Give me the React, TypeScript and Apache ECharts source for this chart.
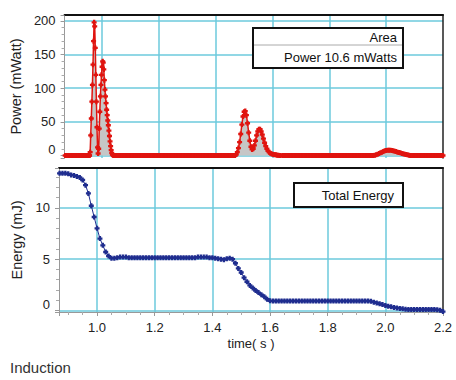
import React, { useEffect, useRef } from "react";
import * as echarts from "echarts";

const FONT = "'Liberation Sans', Arial, Helvetica, sans-serif";

// ---- Power (mWatt): sampled segments (start time s, step s, values) ----
const powerLeadZeros = [0, 0, 0, 0, 0, 0, 0, 0, 0, 0, 0, 0, 0, 0, 0, 0, 0, 0];
const powerPeaks12 = [
  0, 5, 30, 55, 80, 105, 135, 170, 198, 192,
  160, 120, 80, 42, 12, 3, 10, 40, 65, 88,
  105, 120, 132, 140, 138, 128, 112, 98, 88, 78,
  68, 60, 52, 45, 37, 29, 21, 14, 8, 4,
  1.5, 0.5, 0,
];
const powerMidZeros = [
  0, 0, 0, 0, 0, 0, 0, 0, 0, 0,
  0, 0, 0, 0, 0, 0, 0, 0, 0, 0,
  0, 0, 0, 0, 0, 0, 0, 0, 0, 0,
  0, 0, 0, 0, 0, 0, 0, 0, 0, 0,
  0, 0, 0, 0, 0, 0, 0, 0, 0, 0,
  0, 0, 0, 0, 0, 0, 0, 0, 0, 0,
  0, 0, 0, 0, 0, 0, 0, 0, 0, 0,
  0, 0, 0, 0, 0, 0, 0, 0, 0, 0,
  0, 0, 0, 0, 0,
];
const powerPeaks34 = [
  0, 1.5, 5, 11, 20, 32, 46, 58, 65, 66,
  60, 48, 34, 22, 13, 9, 10, 15, 22, 30,
  36, 39, 39, 36, 31, 25, 19, 14, 10, 7,
  5, 3.5, 2.5, 2, 1.5, 1, 1, 0.5, 0.5, 0,
  0,
];
const powerLateZeros = [
  0, 0, 0, 0, 0, 0, 0, 0, 0, 0,
  0, 0, 0, 0, 0, 0, 0, 0, 0, 0,
  0, 0, 0, 0, 0, 0, 0, 0, 0, 0,
  0, 0, 0, 0, 0, 0, 0, 0, 0, 0,
  0, 0, 0, 0, 0, 0, 0, 0, 0, 0,
  0, 0, 0, 0, 0, 0, 0, 0, 0, 0,
  0, 0, 0, 0, 0,
];
const powerPeak5 = [
  0.5, 1, 2, 3, 4, 5, 6, 7, 7.5, 8,
  8, 8, 7.5, 7, 6.5, 6, 5, 4.5, 4, 3,
  2.5, 2, 1.5, 1, 0.5, 0,
];
const powerTailZeros = [
  0, 0, 0, 0, 0, 0, 0, 0, 0, 0,
  0, 0, 0, 0, 0, 0, 0, 0, 0, 0,
  0, 0, 0,
];
const powerSegments = [
  { start: 0.87, step: 0.005, values: powerLeadZeros },
  { start: 0.956, step: 0.002, values: powerPeaks12 },
  { start: 1.045, step: 0.005, values: powerMidZeros },
  { start: 1.468, step: 0.004, values: powerPeaks34 },
  { start: 1.635, step: 0.005, values: powerLateZeros },
  { start: 1.96, step: 0.005, values: powerPeak5 },
  { start: 2.09, step: 0.005, values: powerTailZeros },
];

// ---- Total energy (mJ): sampled every 0.01 s from 0.87 s ----
const energyStart = 0.87;
const energyStep = 0.01;
const energyValues = [
  13.35, 13.35, 13.35, 13.3, 13.2, 13.15, 13.05, 12.95, 12.7, 12.2,
  11.4, 10.2, 9.1, 8.0, 7.0, 6.35, 5.7, 5.3, 5.1, 5.1,
  5.15, 5.2, 5.2, 5.2, 5.15, 5.15, 5.15, 5.15, 5.15, 5.15,
  5.15, 5.15, 5.15, 5.15, 5.15, 5.15, 5.15, 5.15, 5.15, 5.15,
  5.15, 5.15, 5.15, 5.15, 5.15, 5.15, 5.15, 5.15, 5.2, 5.2,
  5.2, 5.2, 5.15, 5.15, 5.1, 5.05, 5.0, 4.95, 5.05, 5.1,
  5.0, 4.6, 4.1, 3.7, 3.2, 2.8, 2.45, 2.2, 1.95, 1.75,
  1.55, 1.35, 1.1, 0.95, 0.93, 0.93, 0.93, 0.93, 0.93, 0.93,
  0.93, 0.93, 0.93, 0.93, 0.93, 0.93, 0.93, 0.93, 0.93, 0.93,
  0.93, 0.93, 0.93, 0.93, 0.93, 0.93, 0.93, 0.93, 0.93, 0.93,
  0.93, 0.93, 0.93, 0.93, 0.93, 0.93, 0.93, 0.93, 0.9, 0.82,
  0.74, 0.66, 0.58, 0.5, 0.42, 0.36, 0.3, 0.26, 0.21, 0.17,
  0.13, 0.11, 0.1, 0.1, 0.1, 0.1, 0.1, 0.1, 0.1, 0.1,
  0.1, 0.08, 0.04, -0.1,
];

// ---- Axes ----
const timeRange = [0.868, 2.2];
const powerRange = [-3.7, 208.9];
const energyRange = [-0.14, 13.87];

const titles = {
  power: "Power (mWatt)",
  energy: "Energy (mJ)",
  time: "time( s )",
  legendArea: "Area",
  legendPower: "Power 10.6 mWatts",
  legendEnergy: "Total Energy",
  footer: "Induction",
};

const PLUS = "path://M1.6,0H4.4V1.6H6V4.4H4.4V6H1.6V4.4H0V1.6H1.6Z";
const RED = "#e0140f";
const NAVY = "#1f2d8f";
const GRID_COLOR = "#6ccadd";
const AXIS_GRAY = "#999";

const powerData = powerSegments.flatMap((s) =>
  s.values.map((v, i) => [+(s.start + i * s.step).toFixed(4), v])
);
const energyData = energyValues.map((v, i) => [
  +(energyStart + i * energyStep).toFixed(4),
  v,
]);

const isMultiple = (v: number, m: number) =>
  Math.abs(v / m - Math.round(v / m)) < 1e-6;

export default function App() {
  const ref = useRef<HTMLDivElement>(null);
  useEffect(() => {
    if (!ref.current) return;
    const chart = echarts.init(ref.current, undefined, { renderer: "svg" });
    const splitLine = {
      show: true,
      showMinLine: false,
      showMaxLine: false,
      lineStyle: { color: GRID_COLOR, width: 1.5 },
    };
    const labelStyle = { fontSize: 13, color: "#222", fontFamily: FONT };
    const zeroRich = {
      z: { fontSize: 13, color: "#222", fontFamily: FONT, padding: [0, 0, 12, 0] },
    };
    const borderX = (grid: number) => ({
      type: "value",
      gridIndex: grid,
      min: timeRange[0],
      max: timeRange[1],
      position: "top",
      axisLine: { show: true, onZero: false, lineStyle: { color: "#111", width: 2 } },
      axisTick: { show: false },
      axisLabel: { show: false },
      splitLine: { show: false },
    });
    const borderY = (grid: number, r: number[]) => ({
      type: "value",
      gridIndex: grid,
      min: r[0],
      max: r[1],
      position: "right",
      axisLine: { show: true, onZero: false, lineStyle: { color: "#222", width: 1.5 } },
      axisTick: { show: false },
      axisLabel: { show: false },
      splitLine: { show: false },
    });
    const yLeft = (grid: number, r: number[], split: number, step: number, name: string) => ({
      type: "value",
      gridIndex: grid,
      min: r[0],
      max: r[1],
      splitNumber: split,
      position: "left",
      axisLine: { show: true, onZero: false, lineStyle: { color: AXIS_GRAY, width: 1 } },
      axisTick: { show: true, length: 4, lineStyle: { color: AXIS_GRAY } },
      minorTick: { show: true, splitNumber: 5, length: 3, lineStyle: { color: "#aaa" } },
      axisLabel: {
        ...labelStyle,
        margin: 9,
        showMinLabel: false,
        showMaxLabel: false,
        formatter: (v: number) =>
          !isMultiple(v, step) ? "" : Math.abs(v) < 1e-9 ? "{z|0}" : String(Math.round(v)),
        rich: zeroRich,
      },
      splitLine,
      name,
      nameLocation: "middle",
      nameGap: 35,
      nameTextStyle: { fontSize: 14.5, color: "#222", fontFamily: FONT },
    });

    chart.setOption({
      animation: false,
      backgroundColor: "#fff",
      grid: [
        { left: 59, top: 15, width: 384, height: 143 },
        { left: 59, top: 168, width: 384, height: 144 },
      ],
      xAxis: [
        {
          type: "value",
          gridIndex: 0,
          min: timeRange[0],
          max: timeRange[1],
          splitNumber: 6,
          position: "bottom",
          axisLine: { show: false, onZero: false },
          axisTick: { show: false },
          axisLabel: { show: false },
          splitLine,
        },
        borderX(0),
        {
          type: "value",
          gridIndex: 1,
          min: timeRange[0],
          max: timeRange[1],
          splitNumber: 6,
          position: "bottom",
          axisLine: { show: true, onZero: false, lineStyle: { color: AXIS_GRAY, width: 1 } },
          axisTick: { show: true, length: 4, lineStyle: { color: AXIS_GRAY } },
          minorTick: { show: true, splitNumber: 4, length: 3, lineStyle: { color: "#aaa" } },
          axisLabel: {
            ...labelStyle,
            margin: 9,
            showMinLabel: false,
            showMaxLabel: true,
            formatter: (v: number) => (isMultiple(v, 0.2) ? v.toFixed(1) : ""),
          },
          splitLine,
          name: titles.time,
          nameLocation: "middle",
          nameGap: 25,
          nameTextStyle: { fontSize: 13, color: "#222", fontFamily: FONT },
        },
        borderX(1),
      ],
      yAxis: [
        yLeft(0, powerRange, 4, 50, titles.power),
        borderY(0, powerRange),
        yLeft(1, energyRange, 3, 5, titles.energy),
        borderY(1, energyRange),
      ],
      series: [
        {
          type: "line",
          xAxisIndex: 0,
          yAxisIndex: 0,
          data: powerData,
          symbol: PLUS,
          symbolSize: 5,
          showSymbol: true,
          itemStyle: { color: RED },
          lineStyle: { color: RED, width: 1.5 },
          areaStyle: { color: "#c6c6c6", opacity: 1 },
          z: 3,
        },
        {
          type: "line",
          xAxisIndex: 2,
          yAxisIndex: 2,
          data: energyData,
          symbol: PLUS,
          symbolSize: 5,
          showSymbol: true,
          itemStyle: { color: NAVY },
          lineStyle: { color: NAVY, width: 1 },
          z: 3,
        },
      ],
      graphic: [
        {
          type: "rect",
          shape: { x: 253, y: 28, width: 150, height: 40 },
          style: { fill: "#fff", stroke: "#111", lineWidth: 2 },
          z: 10,
        },
        {
          type: "line",
          shape: { x1: 254, y1: 45, x2: 402, y2: 45 },
          style: { stroke: "#aaa", lineWidth: 1 },
          z: 11,
        },
        {
          type: "text",
          x: 397,
          y: 37,
          style: { text: titles.legendArea, align: "right", verticalAlign: "middle", fontSize: 13, fill: "#111", fontFamily: FONT },
          z: 11,
        },
        {
          type: "text",
          x: 397,
          y: 57,
          style: { text: titles.legendPower, align: "right", verticalAlign: "middle", fontSize: 13, fill: "#111", fontFamily: FONT },
          z: 11,
        },
        {
          type: "rect",
          shape: { x: 294, y: 183, width: 109, height: 24 },
          style: { fill: "#fff", stroke: "#111", lineWidth: 2 },
          z: 10,
        },
        {
          type: "text",
          x: 394,
          y: 195,
          style: { text: titles.legendEnergy, align: "right", verticalAlign: "middle", fontSize: 13, fill: "#111", fontFamily: FONT },
          z: 11,
        },
        {
          type: "text",
          x: 10,
          y: 367,
          style: { text: titles.footer, align: "left", verticalAlign: "middle", fontSize: 15, fill: "#333", fontFamily: FONT },
          z: 11,
        },
      ],
    });
    return () => chart.dispose();
  }, []);
  return (
    <div
      ref={ref}
      style={{ position: "fixed", left: 0, top: 0, width: 456, height: 380, background: "#fff" }}
    />
  );
}
